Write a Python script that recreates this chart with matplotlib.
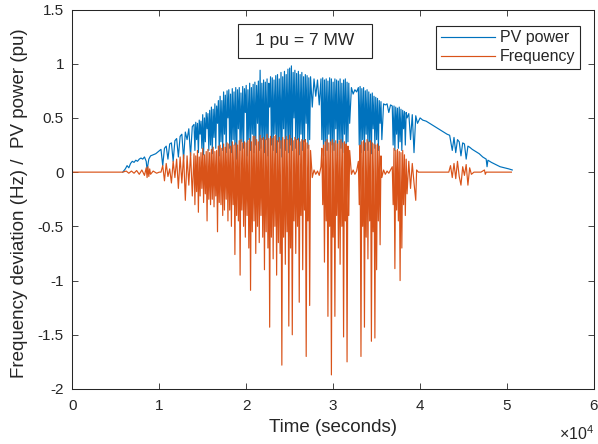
import matplotlib
matplotlib.use('Agg')
import matplotlib.pyplot as plt
import matplotlib.patches as patches
from matplotlib.ticker import FuncFormatter

plt.rcParams['font.family'] = ['Liberation Sans', 'DejaVu Sans']
plt.rcParams['mathtext.fontset'] = 'custom'
plt.rcParams['mathtext.rm'] = 'Liberation Sans'

# ---- PV power (pu): time (s) / value, 10 per row ----
pv_time = [
    5800, 6100, 6300, 6500, 6700, 6900, 7100, 7300, 7500, 7700,
    7900, 8100, 8300, 8500, 8600, 8800, 9000, 9300, 9600, 9900,
    10200, 10400, 10600, 10800, 11000, 11200, 11400, 11600, 11800, 12000,
    12200, 12400, 12600, 12800, 13000, 13200, 13400, 13600, 13800,
    14000, 14100, 14200, 14300, 14400, 14500, 14600, 14700, 14800, 14900,
    15000, 15100, 15200, 15300, 15400, 15500, 15600, 15700, 15800, 15900,
    16000, 16100, 16200, 16300, 16400, 16500, 16600, 16700, 16800, 16900,
    17000, 17100, 17200, 17300, 17400, 17500, 17600, 17700, 17800, 17900,
    18000, 18100, 18200, 18300, 18400, 18500, 18600, 18700, 18800, 18900,
    19000, 19100, 19200, 19300, 19400, 19500, 19600, 19700, 19800, 19900,
    20000, 20100, 20200, 20300, 20400, 20500, 20600, 20700, 20800, 20900,
    21000, 21100, 21200, 21300, 21400, 21500, 21600, 21700, 21800, 21900,
    22000, 22100, 22200, 22300, 22400, 22500, 22600, 22700, 22800, 22900,
    23000, 23100, 23200, 23300, 23400, 23500, 23600, 23700, 23800, 23900,
    24000, 24100, 24200, 24300, 24400, 24500, 24600, 24700, 24800, 24900,
    25000, 25100, 25200, 25300, 25400, 25500, 25600, 25700, 25800, 25900,
    26000, 26100, 26200, 26300, 26400, 26500, 26600, 26700, 26800, 26900,
    27000, 27100, 27200, 27300, 27400,
    27600, 27800, 28000, 28200, 28400, 28600,
    28700, 28800, 28900, 29000, 29100, 29200, 29300, 29400, 29500, 29600,
    29700, 29800, 29900, 30000, 30100, 30200, 30300, 30400, 30500, 30600,
    30700, 30800, 30900, 31000, 31100, 31200, 31300, 31400, 31500, 31600,
    31700, 31800, 31900,
    32100, 32300, 32500, 32700, 32900,
    33000, 33100, 33200, 33300, 33400, 33500, 33600, 33700, 33800, 33900,
    34000, 34100, 34200, 34300, 34400, 34500, 34600, 34700, 34800, 34900,
    35000, 35100, 35200, 35300, 35400, 35500, 35600,
    35800, 36000, 36200, 36400, 36600, 36800,
    36900, 37000, 37100, 37200, 37300, 37400, 37500, 37600, 37700, 37800,
    37900, 38000, 38100, 38200, 38300, 38400, 38500,
    38700, 38900, 39100, 39300, 39500, 39700, 40000,
    40300, 40700, 41100, 41500, 41900, 42300, 42700, 43100, 43400, 43700,
    43900, 44100, 44300, 44500, 44700, 44900, 45100, 45300, 45500, 45700,
    46000, 46400, 46800, 47200, 47600, 47700, 47800, 48200, 48700, 49200,
    49700, 50200, 50600,
]
pv_value = [
    0.00, 0.03, 0.06, 0.04, 0.08, 0.10, 0.09, 0.11, 0.10, 0.12,
    0.13, 0.12, 0.14, 0.10, 0.02, 0.12, 0.15, 0.16, 0.17, 0.19,
    0.21, 0.06, 0.22, 0.24, 0.12, 0.26, 0.27, 0.10, 0.29, 0.31,
    0.14, 0.33, 0.35, 0.12, 0.37, 0.30, 0.40, 0.15, 0.42,
    0.44, 0.20, 0.46, 0.30, 0.45, 0.18, 0.48, 0.35, 0.47, 0.22,
    0.53, 0.16, 0.50, 0.28, 0.55, 0.40, 0.54, 0.20, 0.57, 0.25,
    0.60, 0.17, 0.58, 0.32, 0.63, 0.22, 0.61, 0.45, 0.66, 0.15,
    0.70, 0.28, 0.66, 0.20, 0.74, 0.35, 0.71, 0.18, 0.75, 0.50,
    0.76, 0.22, 0.72, 0.18, 0.77, 0.30, 0.74, 0.25, 0.78, 0.12,
    0.76, 0.40, 0.78, 0.20, 0.73, 0.28, 0.79, 0.22, 0.77, 0.55,
    0.80, 0.15, 0.76, 0.30, 0.82, 0.20, 0.78, 0.35, 0.81, 0.18,
    0.83, 0.25, 0.80, 0.45, 0.84, 0.20, 0.94, 0.22, 0.82, 0.30,
    0.85, 0.18, 0.83, 0.30, 0.86, 0.15, 0.82, 0.60, 0.88, 0.25,
    0.87, 0.20, 0.85, 0.35, 0.89, 0.18, 0.90, 0.28, 0.86, 0.22,
    0.92, 0.14, 0.88, 0.40, 0.93, 0.20, 0.90, 0.30, 0.95, 0.18,
    0.96, 0.25, 0.98, 0.20, 0.92, 0.50, 0.94, 0.22, 0.91, 0.30,
    0.93, 0.16, 0.90, 0.35, 0.92, 0.20, 0.88, 0.28, 0.90, 0.45,
    0.89, 0.22, 0.87, 0.30, 0.88,
    0.60, 0.86, 0.70, 0.85, 0.62, 0.86,
    0.30, 0.87, 0.15, 0.85, 0.28, 0.86, 0.20, 0.84, 0.35, 0.87,
    0.18, 0.86, 0.25, 0.83, 0.20, 0.86, 0.40, 0.85, 0.15, 0.84,
    0.30, 0.86, 0.22, 0.82, 0.18, 0.85, 0.35, 0.86, 0.20, 0.83,
    0.28, 0.82, 0.45,
    0.78, 0.72, 0.76, 0.74, 0.78,
    0.25, 0.79, 0.18, 0.77, 0.30, 0.78, 0.20, 0.75, 0.35, 0.76,
    0.20, 0.74, 0.28, 0.72, 0.17, 0.73, 0.40, 0.70, 0.22, 0.69,
    0.30, 0.68, 0.20, 0.66, 0.45, 0.65, 0.30,
    0.63, 0.62, 0.63, 0.55, 0.62, 0.61,
    0.25, 0.61, 0.20, 0.60, 0.35, 0.59, 0.22, 0.60, 0.28, 0.58,
    0.20, 0.57, 0.40, 0.56, 0.25, 0.55, 0.50,
    0.54, 0.30, 0.53, 0.18, 0.52, 0.45, 0.50,
    0.48, 0.47, 0.45, 0.43, 0.41, 0.39, 0.37, 0.35, 0.34, 0.20,
    0.32, 0.18, 0.30, 0.28, 0.15, 0.27, 0.26, 0.12, 0.24, 0.23,
    0.21, 0.19, 0.17, 0.14, 0.12, 0.05, 0.11, 0.09, 0.07, 0.05,
    0.04, 0.03, 0.02,
]

# ---- Frequency deviation (Hz) ----
freq_time = [
    0, 5800, 6200, 6500, 6800, 7100, 7400, 7700, 8000, 8300,
    8500, 8600, 8700, 8800, 8900, 9000, 9300, 9700, 10000, 10200,
    10400, 10600, 10800, 11000, 11200, 11400, 11600, 11800, 12000, 12200,
    12400, 12600, 12800, 13000, 13200, 13400, 13600, 13800,
    14000, 14100, 14200, 14300, 14400, 14500, 14600, 14700, 14800, 14900,
    15000, 15100, 15200, 15300, 15400, 15500, 15600, 15700, 15800, 15900,
    16000, 16100, 16200, 16300, 16400, 16500, 16600, 16700, 16800, 16900,
    17000, 17100, 17200, 17300, 17400, 17500, 17600, 17700, 17800, 17900,
    18000, 18100, 18200, 18300, 18400, 18500, 18600, 18700, 18800, 18900,
    19000, 19100, 19200, 19300, 19400, 19500, 19600, 19700, 19800, 19900,
    20000, 20100, 20200, 20300, 20400, 20500, 20600, 20700, 20800, 20900,
    21000, 21100, 21200, 21300, 21400, 21500, 21600, 21700, 21800, 21900,
    22000, 22100, 22200, 22300, 22400, 22500, 22600, 22700, 22800, 22900,
    23000, 23100, 23200, 23300, 23400, 23500, 23600, 23700, 23800, 23900,
    24000, 24100, 24200, 24300, 24400, 24500, 24600, 24700, 24800, 24900,
    25000, 25100, 25200, 25300, 25400, 25500, 25600, 25700, 25800, 25900,
    26000, 26100, 26200, 26300, 26400, 26500, 26600, 26700, 26800, 26900,
    27000, 27100, 27200, 27300, 27400,
    27600, 27800, 28000, 28200, 28400, 28600,
    28700, 28800, 28900, 29000, 29100, 29200, 29300, 29400, 29500, 29600,
    29700, 29800, 29900, 30000, 30100, 30200, 30300, 30400, 30500, 30600,
    30700, 30800, 30900, 31000, 31100, 31200, 31300, 31400, 31500, 31600,
    31700, 31800, 31900,
    32100, 32300, 32500, 32700, 32900,
    33000, 33100, 33200, 33300, 33400, 33500, 33600, 33700, 33800, 33900,
    34000, 34100, 34200, 34300, 34400, 34500, 34600, 34700, 34800, 34900,
    35000, 35100, 35200, 35300, 35400, 35500, 35600,
    35800, 36000, 36200, 36400, 36600, 36800,
    36900, 37000, 37100, 37200, 37300, 37400, 37500, 37600, 37700, 37800,
    37900, 38000, 38100, 38200, 38300, 38400, 38500,
    38700, 38900, 39100, 39300, 39500, 39600, 39800, 43300,
    43500, 43700, 43900, 44100, 44300, 44500, 44700, 44900, 45100, 45300,
    45500, 45700, 45900, 46200, 47000, 47400, 47500, 47600, 48000, 50500,
]
freq_value = [
    0.00, 0.00, 0.01, -0.01, 0.01, -0.01, 0.015, -0.02, 0.02, -0.03,
    0.04, -0.05, 0.05, -0.04, 0.03, -0.02, 0.01, -0.01, 0.00, 0.00,
    0.06, -0.08, 0.08, -0.04, 0.03, -0.10, 0.10, -0.05, 0.12, -0.15,
    0.14, -0.10, 0.16, -0.26, 0.15, -0.12, 0.18, -0.22,
    0.17, -0.30, 0.15, -0.18, 0.20, -0.37, 0.14, -0.22, 0.18, -0.15,
    0.22, -0.28, 0.16, -0.20, 0.19, -0.45, 0.21, -0.25, 0.18, -0.30,
    0.21, -0.25, 0.23, -0.32, 0.19, -0.22, 0.20, -0.55, 0.24, -0.28,
    0.25, -0.30, 0.22, -0.40, 0.26, -0.35, 0.23, -0.25, 0.27, -0.45,
    0.26, -0.35, 0.24, -0.50, 0.28, -0.30, 0.25, -0.76, 0.27, -0.40,
    0.25, -0.45, 0.29, -0.95, 0.30, -0.35, 0.27, -0.50, 0.28, -0.60,
    0.27, -0.40, 0.29, -0.70, 0.31, -1.09, 0.28, -0.55, 0.33, -0.45,
    0.33, -0.75, 0.30, -0.50, 0.28, -0.65, 0.34, -0.40, 0.31, -0.60,
    0.32, -0.90, 0.30, -0.55, 0.35, -0.70, 0.31, -1.43, 0.33, -0.60,
    0.31, -0.80, 0.33, -0.50, 0.34, -0.95, 0.29, -0.65, 0.32, -0.75,
    0.29, -1.78, 0.32, -0.60, 0.30, -0.85, 0.33, -0.55, 0.30, -1.42,
    0.34, -0.70, 0.31, -1.50, 0.29, -0.45, 0.32, -0.75, 0.30, -0.50,
    0.31, -1.20, 0.28, -0.40, 0.30, -0.90, 0.29, -0.35, 0.30, -1.70,
    0.27, -0.45, 0.25, -1.23, 0.20,
    -0.05, 0.02, -0.02, 0.01, -0.03, 0.05,
    0.22, -0.30, 0.25, -0.83, 0.28, -0.45, 0.30, -1.33, 0.27, -0.50,
    0.28, -1.87, 0.30, -0.60, 0.27, -1.33, 0.29, -0.40, 0.26, -0.70,
    0.29, -0.85, 0.30, -0.50, 0.27, -1.52, 0.28, -0.45, 0.26, -1.75,
    0.24, -0.40, 0.20,
    -0.02, 0.02, -0.02, 0.01, 0.10,
    -0.30, 0.25, -1.70, 0.28, -0.50, 0.29, -1.43, 0.27, -0.60, 0.30,
    -0.80, 0.28, -0.45, 0.29, -1.56, 0.27, -0.55, 0.26, -1.53, 0.25,
    -0.90, 0.26, -0.45, 0.24, -0.67, 0.15, -0.05,
    0.02, -0.02, 0.01, -0.01, 0.02, 0.05,
    -0.30, 0.22, -0.89, 0.20, -0.35, 0.21, -0.45, 0.19, -1.00, 0.18,
    -0.70, 0.20, -0.30, 0.16, -0.40, 0.12, -0.20,
    0.10, -0.15, 0.08, -0.10, -0.26, 0.02, 0.00, 0.00,
    0.06, -0.05, 0.08, -0.06, 0.10, -0.04, -0.12, 0.05, -0.03, 0.07,
    -0.12, 0.04, -0.02, 0.00, 0.00, 0.02, -0.02, 0.00, 0.00, 0.00,
]

x_ticks = [0, 10000, 20000, 30000, 40000, 50000, 60000]
y_ticks = [-2, -1.5, -1, -0.5, 0, 0.5, 1, 1.5]

BLUE = '#0072BD'
ORANGE = '#D95319'
AXCOL = '#262626'

fig = plt.figure(figsize=(5.98, 4.44), dpi=100, facecolor='white')
ax = fig.add_axes([0.1209, 0.1239, 0.8724, 0.8547])

ax.plot(pv_time, pv_value, color=BLUE, lw=0.85, label='PV power')
ax.plot(freq_time, freq_value, color=ORANGE, lw=0.85, label='Frequency')

ax.set_xlim(0, 60000)
ax.set_ylim(-2, 1.5)
ax.set_xticks(x_ticks)
ax.set_yticks(y_ticks)
ax.xaxis.set_major_formatter(FuncFormatter(lambda v, p: f'{v / 1e4:g}'))
ax.yaxis.set_major_formatter(FuncFormatter(lambda v, p: f'{v:g}'))
ax.tick_params(direction='in', top=True, right=True, length=4, width=0.6,
               colors=AXCOL, labelsize=11)
ax.tick_params(axis='x', pad=7)
ax.tick_params(axis='y', pad=6)
for s in ax.spines.values():
    s.set_color(AXCOL)
    s.set_linewidth(0.75)

ax.set_xlabel('Time (seconds)', fontsize=13.5, color=AXCOL)
ax.set_ylabel('Frequency deviation (Hz) /  PV power (pu)', fontsize=13.5, color=AXCOL)
ax.xaxis.set_label_coords(0.5, -0.080)
ax.yaxis.set_label_coords(-0.085, 0.49)

# x10^4 multiplier like MATLAB
ax.text(1.0, -0.118, r'$\times\mathregular{10^{4}}$', transform=ax.transAxes,
        ha='right', va='center', fontsize=11.5, color=AXCOL)

# note box
ax.add_patch(patches.Rectangle((0.3176, 0.8722), 0.2569, 0.0896, transform=ax.transAxes,
                               fill=True, facecolor='white', edgecolor=AXCOL, lw=0.8))
ax.text(0.446, 0.917, '1 pu = 7 MW', transform=ax.transAxes, ha='center', va='center',
        fontsize=12.5, color=AXCOL)

leg = ax.legend(loc='upper right', bbox_to_anchor=(0.9732, 0.9578), fontsize=11.5,
                frameon=True, fancybox=False, framealpha=1, edgecolor=AXCOL,
                handlelength=3.4, handletextpad=0.3, borderpad=0.3,
                labelspacing=0.25, borderaxespad=0)
leg.get_frame().set_linewidth(0.8)
for t in leg.get_texts():
    t.set_color(AXCOL)

fig.savefig('out.png', dpi=100, facecolor='white')
